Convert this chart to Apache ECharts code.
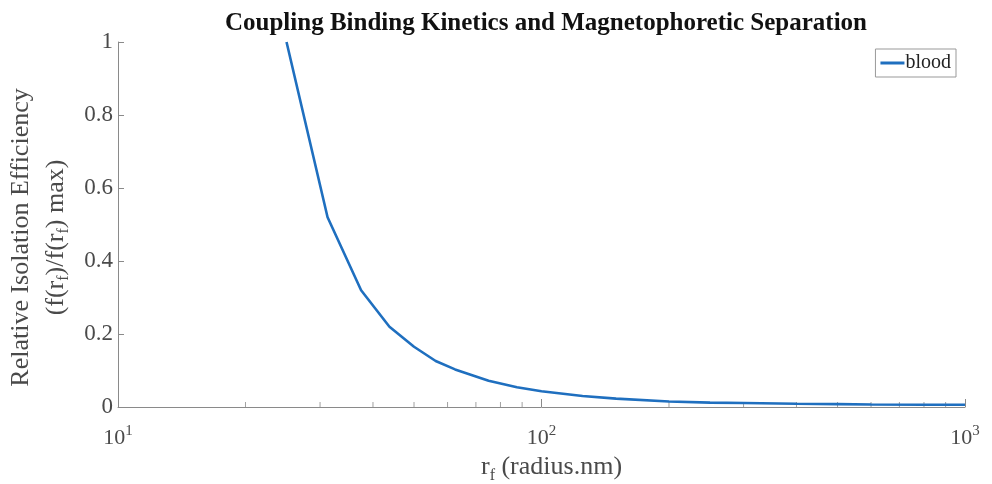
<!DOCTYPE html>
<html>
<head>
<meta charset="utf-8">
<script src="https://cdn.jsdelivr.net/npm/echarts@6/dist/echarts.min.js"></script>
<style>
  html, body { margin: 0; padding: 0; background: #fff; }
  #chart { width: 992px; height: 484px; }
</style>
</head>
<body>
<div id="chart"></div>
<script>
// radius (nm) and relative isolation efficiency
const radius = [25, 31.25, 37.5, 43.75, 50, 56.25, 62.5, 75, 87.5, 100, 125, 150, 200, 250, 300, 400, 500, 600, 800, 1000]
const blood = [1, 0.52, 0.32, 0.22, 0.165, 0.126, 0.103, 0.072, 0.054, 0.043, 0.030, 0.023, 0.015, 0.012, 0.011, 0.009, 0.008, 0.007, 0.006, 0.006]

// minor ticks on the log x axis (MATLAB style)
const minorTicks = [20, 30, 40, 50, 60, 70, 80, 90, 200, 300, 400, 500, 600, 700, 800, 900]
const yTicks = [0, 0.2, 0.4, 0.6, 0.8, 1]

const serif = '"Liberation Serif", "Times New Roman", serif'
const axisGray = '#8a8a8a'
const textGray = '#4a4a4a'

const chart = echarts.init(document.getElementById('chart'))

const option = {
  backgroundColor: '#fff',
  animation: false,
  title: {
    text: 'Coupling Binding Kinetics and Magnetophoretic Separation',
    left: 541,
    textAlign: 'center',
    top: 6,
    textStyle: {
      fontFamily: serif,
      fontSize: 25,
      fontWeight: 'bold',
      color: '#111'
    }
  },
  legend: {
    data: ['blood'],
    right: 36,
    top: 49,
    orient: 'vertical',
    icon: 'rect',
    itemWidth: 24,
    itemHeight: 3,
    itemGap: 0,
    padding: [4, 5, 4, 5],
    borderColor: '#999',
    borderWidth: 1,
    textStyle: {
      fontFamily: serif,
      fontSize: 20,
      color: '#222',
      padding: [0, 0, 0, -4]
    }
  },
  grid: {
    left: 118,
    right: 27,
    top: 42,
    bottom: 77,
    outerBoundsMode: 'none'
  },
  xAxis: {
    type: 'log',
    logBase: 10,
    min: 10,
    max: 1000,
    name: 'r{sub|f} (radius.nm)',
    nameLocation: 'middle',
    nameGap: 41,
    nameTextStyle: {
      fontFamily: serif,
      fontSize: 26,
      color: textGray,
      padding: [0, 0, 0, 20],
      rich: {
        sub: { fontFamily: serif, fontSize: 16, color: textGray, padding: [16, 0, 0, 0] }
      }
    },
    axisLine: { lineStyle: { color: axisGray, width: 1 } },
    axisTick: { inside: true, length: 8, lineStyle: { color: axisGray } },
    splitLine: { show: false },
    axisLabel: {
      margin: 17,
      fontFamily: serif,
      fontSize: 22,
      color: textGray,
      formatter: (v) => '10{sup|' + Math.round(Math.log10(v)) + '}',
      rich: {
        sup: { fontFamily: serif, fontSize: 15, color: textGray, padding: [0, 0, 14, 0] }
      }
    }
  },
  yAxis: {
    type: 'value',
    min: 0,
    max: 1,
    interval: 0.2,
    name: 'Relative Isolation Efficiency\n(f(r{sub|f})/f(r{sub|f}) max)',
    nameLocation: 'middle',
    nameRotate: 90,
    nameGap: 44,
    nameTextStyle: {
      fontFamily: serif,
      fontSize: 26,
      color: textGray,
      lineHeight: 35,
      padding: [0, 26, 0, 0],
      rich: {
        sub: { fontFamily: serif, fontSize: 16, color: textGray, padding: [16, 0, 0, 0] }
      }
    },
    axisLine: { show: true, lineStyle: { color: axisGray, width: 1 } },
    axisTick: { show: true, inside: true, length: 6, lineStyle: { color: axisGray } },
    splitLine: { show: false },
    axisLabel: {
      margin: 5,
      fontFamily: serif,
      fontSize: 23,
      color: textGray,
      formatter: (v) => String(yTicks.find(t => Math.abs(t - v) < 1e-9) ?? v)
    }
  },
  series: [
    {
      name: 'blood',
      type: 'line',
      symbol: 'none',
      smooth: false,
      color: '#1f6fbf',
      lineStyle: { width: 2.6, color: '#1f6fbf' },
      data: radius.map((r, i) => [r, blood[i]]),
      z: 3
    },
    {
      name: 'minor',
      type: 'scatter',
      silent: true,
      symbol: 'rect',
      symbolSize: [1, 5],
      symbolOffset: [0, -2.5],
      itemStyle: { color: axisGray },
      data: minorTicks.map(v => [v, 0]),
      z: 2
    }
  ]
}

chart.setOption(option)
</script>
</body>
</html>
